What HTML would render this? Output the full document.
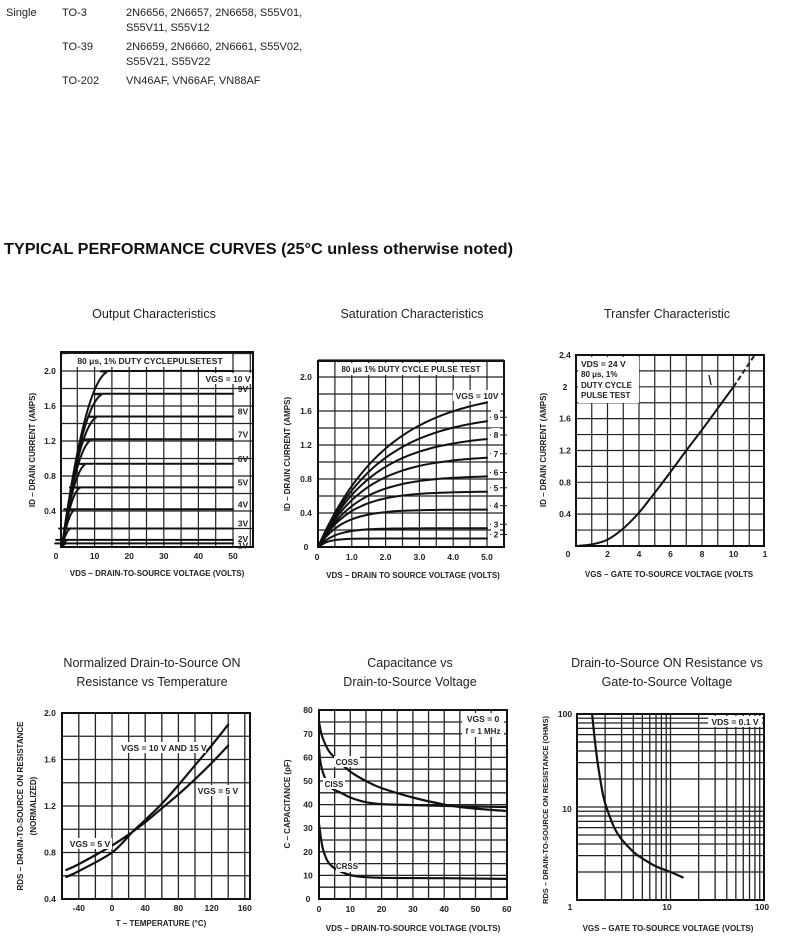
<!DOCTYPE html>
<html><head><meta charset="utf-8">
<style>
html,body{margin:0;padding:0;background:#fff;}
svg{display:block;font-family:"Liberation Sans",Arial,sans-serif;}
</style></head>
<body>
<svg id="s" width="789" height="948" viewBox="0 0 789 948" xmlns="http://www.w3.org/2000/svg">
<g font-size="11" fill="#222">
<text x="6" y="16">Single</text>
<text x="62" y="16">TO-3</text>
<text x="126" y="16">2N6656, 2N6657, 2N6658, S55V01,</text>
<text x="126" y="31">S55V11, S55V12</text>
<text x="62" y="50">TO-39</text>
<text x="126" y="50">2N6659, 2N6660, 2N6661, S55V02,</text>
<text x="126" y="65">S55V21, S55V22</text>
<text x="62" y="84">TO-202</text>
<text x="126" y="84">VN46AF, VN66AF, VN88AF</text>
</g>
<text x="4" y="254" font-size="16" font-weight="bold" fill="#111" textLength="509" lengthAdjust="spacingAndGlyphs">TYPICAL PERFORMANCE CURVES (25°C unless otherwise noted)</text>
<g font-size="12.5" fill="#222" text-anchor="middle">
<text x="154" y="318">Output Characteristics</text>
<text x="412" y="318">Saturation Characteristics</text>
<text x="667" y="318">Transfer Characteristic</text>
<text x="152" y="667">Normalized Drain-to-Source ON</text>
<text x="152" y="686">Resistance vs Temperature</text>
<text x="410" y="667">Capacitance vs</text>
<text x="410" y="686">Drain-to-Source Voltage</text>
<text x="667" y="667">Drain-to-Source ON Resistance vs</text>
<text x="667" y="686">Gate-to-Source Voltage</text>
</g>
<g id="g"></g>
</svg>
<script>
var NS="http://www.w3.org/2000/svg",G=document.getElementById('g');
function el(t,a,txt){var e=document.createElementNS(NS,t);for(var k in a)e.setAttribute(k,a[k]);if(txt!=null)e.textContent=txt;G.appendChild(e);return e;}
function line(x1,y1,x2,y2,w,dash){var a={x1:x1,y1:y1,x2:x2,y2:y2,stroke:'#222','stroke-width':w||1.3};if(dash)a['stroke-dasharray']=dash;el('line',a);}
function rect(x,y,w,h){el('rect',{x:x,y:y,width:w,height:h,fill:'none',stroke:'#111','stroke-width':2});}
function txt(x,y,s,sz,anchor,extra){var a={x:x,y:y,'font-size':sz||9,'font-weight':'bold',fill:'#222','text-anchor':anchor||'middle'};for(var k in extra)a[k]=extra[k];el('text',a,s);}
function smooth(p){var d='M'+p[0][0].toFixed(1)+' '+p[0][1].toFixed(1);for(var i=0;i<p.length-1;i++){var a=p[i-1]||p[i],b=p[i],c=p[i+1],e=p[i+2]||c;d+=' C'+(b[0]+(c[0]-a[0])/6).toFixed(1)+' '+(b[1]+(c[1]-a[1])/6).toFixed(1)+' '+(c[0]-(e[0]-b[0])/6).toFixed(1)+' '+(c[1]-(e[1]-b[1])/6).toFixed(1)+' '+c[0].toFixed(1)+' '+c[1].toFixed(1);}return d;}
function curve(p,w,dash){var a={d:smooth(p),fill:'none',stroke:'#111','stroke-width':w||2.2,'stroke-linecap':'round'};if(dash)a['stroke-dasharray']=dash;el('path',a);}
function ylabel(x,y,s,sz){el('text',{x:0,y:0,'font-size':sz||8,'font-weight':'bold',fill:'#222','text-anchor':'middle',transform:'translate('+x+','+y+') rotate(-90)'},s);}

(function(){var L=61,R=253,T=352,B=547;var X=function(v){return 60+v*3.46},Y=function(i){return 546-i*87.5};
for(var v=5;v<56;v+=5)line(X(v),T,X(v),B,1.2);
for(var i=0.2;i<2.2;i+=0.2)line(L,Y(i),R,Y(i),1.2);
rect(L,T,R-L,B-T);
el('rect',{x:68,y:354,width:164,height:13,fill:'#fff'});
txt(150,364,'80 μs, 1% DUTY CYCLEPULSETEST',8.5);
var lv=[[0.03,'1V'],[0.07,'2V'],[0.2,'3V'],[0.42,'4V'],[0.67,'5V'],[0.94,'6V'],[1.22,'7V'],[1.48,'8V'],[1.74,'9V'],[2.0,'']];
lv.forEach(function(o){var Is=o[0],xk=2+6.3*Is,p=[];for(var k=0;k<=12;k++){var x=0.6+(xk-0.6)*k/12,t=(x-0.6)/(xk-0.6);p.push([X(x),Y(Is*(1-(1-t)*(1-t)))]);}p.push([X(50),Y(Is)]);curve(p,2);if(o[1])txt(243,Y(Is)+(Is<0.1?(Is<0.05?5:2):-2),o[1],8.5);});
el('rect',{x:203,y:373,width:49,height:11,fill:'#fff'});
txt(228,382,'VGS = 10 V',8.5);
['0','10','20','30','40','50'].forEach(function(s,i){txt(X(i*10)+(i?0:-4),559,s,8.5);});
[['2.0',2],['1.6',1.6],['1.2',1.2],['0.8',0.8],['0.4',0.4]].forEach(function(o){txt(50,Y(o[1])+3,o[0],8.5);});
ylabel(35,450,'ID – DRAIN CURRENT (AMPS)');
txt(157,576,'VDS – DRAIN-TO-SOURCE VOLTAGE (VOLTS)',8);
})();

(function(){var L=318,R=504,T=361,B=547;var X=function(v){return 318+v*33.8},Y=function(i){return 547-i*85};
for(var v=0.5;v<5.6;v+=0.5)line(X(v),T,X(v),B,1.2);
for(var i=0.2;i<2.2;i+=0.2)line(L,Y(i),R,Y(i),1.2);
rect(L,T,R-L,B-T);
el('rect',{x:336,y:363,width:150,height:12,fill:'#fff'});
txt(411,372,'80 μs  1% DUTY CYCLE PULSE TEST',8);
var I5=[0.1,0.22,0.44,0.65,0.83,1.05,1.27,1.48,1.7];
I5.forEach(function(i5,k){var V=k+2,x0=0.3+0.22*(V-2),Is=i5/(1-Math.exp(-5/x0)),p=[];for(var j=0;j<=20;j++){var x=5*j/20;p.push([X(x),Y(Is*(1-Math.exp(-x/x0)))]);}curve(p,2);
var lbl=V==10?'':String(V);if(lbl){line(X(5)+3,Y(i5)-4,X(5)+20,Y(i5)-4,1);el('rect',{x:X(5)+4,y:Y(i5)-11,width:9,height:11,fill:'#fff'});txt(X(5)+9,Y(i5)-1,lbl,8.5);}});
el('rect',{x:453,y:390,width:48,height:11,fill:'#fff'});txt(477,399,'VGS = 10V',8.5);
['0','1.0','2.0','3.0','4.0','5.0'].forEach(function(s,i){txt(X(i)+(i?0:-1),560,s,8.5);});
[['2.0',2],['1.6',1.6],['1.2',1.2],['0.8',0.8],['0.4',0.4],['0',0]].forEach(function(o){txt(306,Y(o[1])+3,o[0],8.5);});
ylabel(290,454,'ID – DRAIN CURRENT (AMPS)');
txt(413,578,'VDS – DRAIN TO SOURCE VOLTAGE (VOLTS)',8);
})();

(function(){var L=576,R=764,T=355,B=546;var X=function(v){return 576+v*15.75},Y=function(i){return 546-i*79.6};
for(var v=1;v<12;v++)line(X(v),T,X(v),B,1.2);
for(var i=0.2;i<2.4;i+=0.2)line(L,Y(i),R,Y(i),1.2);
rect(L,T,R-L,B-T);
el('rect',{x:578,y:357,width:61,height:46,fill:'#fff'});
el('text',{x:581,y:367,'font-size':8.5,'font-weight':'bold',fill:'#222'},'VDS = 24 V');
el('text',{x:581,y:377,'font-size':8,'font-weight':'bold',fill:'#222'},'80 μs, 1%');
el('text',{x:581,y:388,'font-size':8,'font-weight':'bold',fill:'#222'},'DUTY CYCLE');
el('text',{x:581,y:398,'font-size':8,'font-weight':'bold',fill:'#222'},'PULSE TEST');
var pts=[[0,0],[1,0.02],[2,0.08],[3,0.22],[4,0.42],[5,0.67],[6,0.93],[7,1.2],[8,1.46],[9,1.73],[10,2.0]].map(function(q){return[X(q[0]),Y(q[1])]});
curve(pts,2);
line(X(10),Y(2),X(11.35),Y(2.4),2,'5,3');
line(709,375,711,385,1.4);
['0','2','4','6','8','10','1'].forEach(function(s,i){txt(i==0?568:X(i*2),557,s,8.5);});
[['2.4',2.4],['2',2],['1.6',1.6],['1.2',1.2],['0.8',0.8],['0.4',0.4]].forEach(function(o){txt(565,Y(o[1])+3,o[0],8.5);});
ylabel(546,450,'ID – DRAIN CURRENT (AMPS)');
txt(669,577,'VGS – GATE TO-SOURCE VOLTAGE (VOLTS',8);
})();

(function(){var L=62,R=250,T=713,B=899;var X=function(t){return 112+t*0.83},Y=function(r){return 899-(r-0.4)*116.25};
for(var t=-40;t<165;t+=20)line(X(t),T,X(t),B,1.3);
for(var r=0.6;r<2.0;r+=0.2)line(L,Y(r),R,Y(r),1.3);
rect(L,T,R-L,B-T);
curve([[-55,0.59],[-40,0.64],[0,0.8],[25,0.98],[40,1.08],[60,1.22],[80,1.38],[100,1.55],[120,1.72],[140,1.9]].map(function(q){return[X(q[0]),Y(q[1])]}),2.2);
curve([[-55,0.65],[-40,0.7],[0,0.86],[25,0.98],[40,1.06],[60,1.18],[80,1.3],[100,1.43],[120,1.57],[140,1.72]].map(function(q){return[X(q[0]),Y(q[1])]}),2.2);
el('rect',{x:120,y:742,width:86,height:11,fill:'#fff'});txt(164,751,'VGS = 10 V AND 15 V',8.5);
el('rect',{x:196,y:785,width:44,height:11,fill:'#fff'});txt(218,794,'VGS = 5 V',8.5);
el('rect',{x:68,y:838,width:44,height:11,fill:'#fff'});txt(90,847,'VGS = 5 V',8.5);
['-40','0','40','80','120','160'].forEach(function(s,i){txt(X(-40+i*40),911,s,8.5);});
[['2.0',2],['1.6',1.6],['1.2',1.2],['0.8',0.8],['0.4',0.4]].forEach(function(o){txt(50,Y(o[1])+3,o[0],8.5);});
ylabel(23,806,'RDS – DRAIN-TO-SOURCE ON RESISTANCE');
ylabel(36,806,'(NORMALIZED)');
txt(161,926,'T – TEMPERATURE (°C)',8);
})();

(function(){var L=319,R=507,T=710,B=899;var X=function(v){return 319+v*3.13},Y=function(c){return 899-c*2.36};
for(var v=5;v<60;v+=5)line(X(v),T,X(v),B,1.3);
for(var c=5;c<80;c+=5)line(L,Y(c),R,Y(c),1.3);
rect(L,T,R-L,B-T);
function P(a){return a.map(function(q){return[X(q[0]),Y(q[1])]})}
curve(P([[0,75],[1,69],[3,63],[5,60],[10,54],[15,50],[20,47],[30,43],[40,40],[45,39],[50,38.3],[60,37.3]]),2.2);
curve(P([[0,64],[0.6,57],[2,51],[4,47],[7,45],[10,43],[15,41],[20,40.2],[30,39.8],[45,39.3],[60,39]]),2.2);
curve(P([[0,32],[0.7,25],[1.5,20],[3,15.5],[5,13],[8,11],[12,9.6],[20,9],[40,8.8],[60,8.5]]),2.2);
el('rect',{x:462,y:713,width:42,height:24,fill:'#fff'});
txt(483,722,'VGS = 0',8.5);txt(483,734,'f = 1 MHz',8);
el('rect',{x:334,y:756,width:26,height:11,fill:'#fff'});txt(347,765,'COSS',8);
el('rect',{x:323,y:778,width:22,height:11,fill:'#fff'});txt(334,787,'CISS',8);
el('rect',{x:336,y:861,width:22,height:11,fill:'#fff'});txt(347,869,'CRSS',8);
['0','10','20','30','40','50','60'].forEach(function(s,i){txt(X(i*10),912,s,8.5);});
for(var c=0;c<=80;c+=10)txt(308,Y(c)+3,String(c),8.5);
ylabel(290,804,'C – CAPACITANCE (pF)');
txt(413,931,'VDS – DRAIN-TO-SOURCE VOLTAGE (VOLTS)',8);
})();

(function(){var L=577,R=764,T=714,B=900;var X=function(v){return 577+93.5*Math.log10(v)},Y=function(r){return 900-93*Math.log10(r)};
[1,10].forEach(function(d){for(var k=2;k<=9;k++){line(X(k*d),T,X(k*d),B,1.3);line(L,Y(k*d),R,Y(k*d),1.3);}});
line(X(10),T,X(10),B,1.3);line(L,Y(10),R,Y(10),1.3);
rect(L,T,R-L,B-T);
curve([[1.45,100],[1.6,40],[1.8,18],[2,11],[2.5,6],[3,4.5],[4,3.3],[5,2.8],[7,2.3],[10,2.0],[13.5,1.75]].map(function(q){return[X(q[0]),Y(q[1])]}),2.2);
el('rect',{x:708,y:716,width:54,height:11,fill:'#fff'});txt(735,725,'VDS = 0.1 V',8.5);
txt(570,910,'1',8.5);txt(667,910,'10',8.5);txt(762,910,'100',8.5);
txt(565,717,'100',8.5);txt(567,812,'10',8.5);
ylabel(548,810,'RDS – DRAIN-TO-SOURCE ON RESISTANCE (OHMS)',7.5);
txt(668,931,'VGS – GATE TO-SOURCE VOLTAGE (VOLTS)',8);
})();
</script>
</body></html>
